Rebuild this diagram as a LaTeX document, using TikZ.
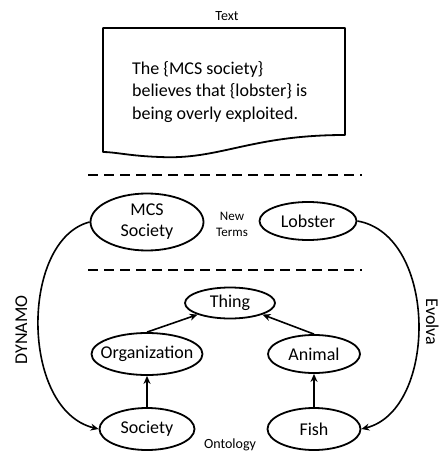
\documentclass[tikz,border=0pt]{standalone}
\usepackage{fontspec}
\setmainfont{Carlito}
\usetikzlibrary{shapes.geometric,arrows.meta}

\begin{document}
\begin{tikzpicture}[x=1pt,y=-1pt,
  term/.style={ellipse,draw,line width=1.8pt,inner sep=0pt,align=center,font=\fontsize{18}{21}\selectfont},
  small/.style={align=center,font=\fontsize{13}{16}\selectfont},
  arr/.style={line width=1.6pt,-{Stealth[length=8pt,width=7pt]}},
  sep/.style={line width=2.2pt,dash pattern=on 10pt off 6pt}]
\useasboundingbox (0,0) rectangle (443,457);

\draw[line width=1.8pt,line join=round] (103,28) -- (345,28) -- (345,135)
  .. controls (250,135) and (220,160) .. (160,157)
  .. controls (130,156) and (115,152) .. (103,152) -- cycle;
\node[anchor=west,inner sep=0pt,align=left,font=\fontsize{18}{22.5}\selectfont] (doc) at (132,92) {The \{MCS society\}\\believes that \{lobster\} is\\being overly exploited.};
\node[font=\fontsize{14}{17}\selectfont] (doclabel) at (227,16) {Text};

\draw[sep] (88,175) -- (362,175);
\draw[sep] (88,270) -- (362,270);

\node[term,minimum width=113pt,minimum height=57pt] (mcs) at (147,222) {MCS\\Society};
\node[small] (newterms) at (232,224) {New\\Terms};
\node[term,minimum width=97pt,minimum height=38pt] (lobster) at (308,221) {Lobster};

\node[term,minimum width=90pt,minimum height=31pt] (thing) at (230,303) {Thing};
\node[term,minimum width=111pt,minimum height=42pt] (org) at (147,354) {\makebox[0pt]{Organization}};
\node[term,minimum width=92pt,minimum height=38pt] (animal) at (314,354) {Animal};
\node[term,minimum width=95pt,minimum height=42pt] (society) at (147,429) {Society};
\node[term,minimum width=93pt,minimum height=42pt] (fish) at (314,429) {Fish};
\node[font=\fontsize{14}{17}\selectfont] (ontology) at (230,445) {Ontology};

\node[rotate=90,anchor=base,font=\fontsize{18}{21}\selectfont] (dynamo) at (27,330) {DYNAMO};
\node[rotate=-90,anchor=base,font=\fontsize{18}{21}\selectfont] (evolva) at (426,322) {Evolva};

\draw[arr] (org.north) -- (thing.south west);
\draw[arr] (animal.north) -- (thing.south east);
\draw[arr] (society.north) -- (org.south);
\draw[arr] (fish.north) -- (animal.south);

\draw[arr] (mcs.west) .. controls (20,240) and (20,410) .. (society.west);
\draw[arr] (lobster.east) .. controls (438,235) and (438,410) .. (fish.east);
\end{tikzpicture}
\end{document}
